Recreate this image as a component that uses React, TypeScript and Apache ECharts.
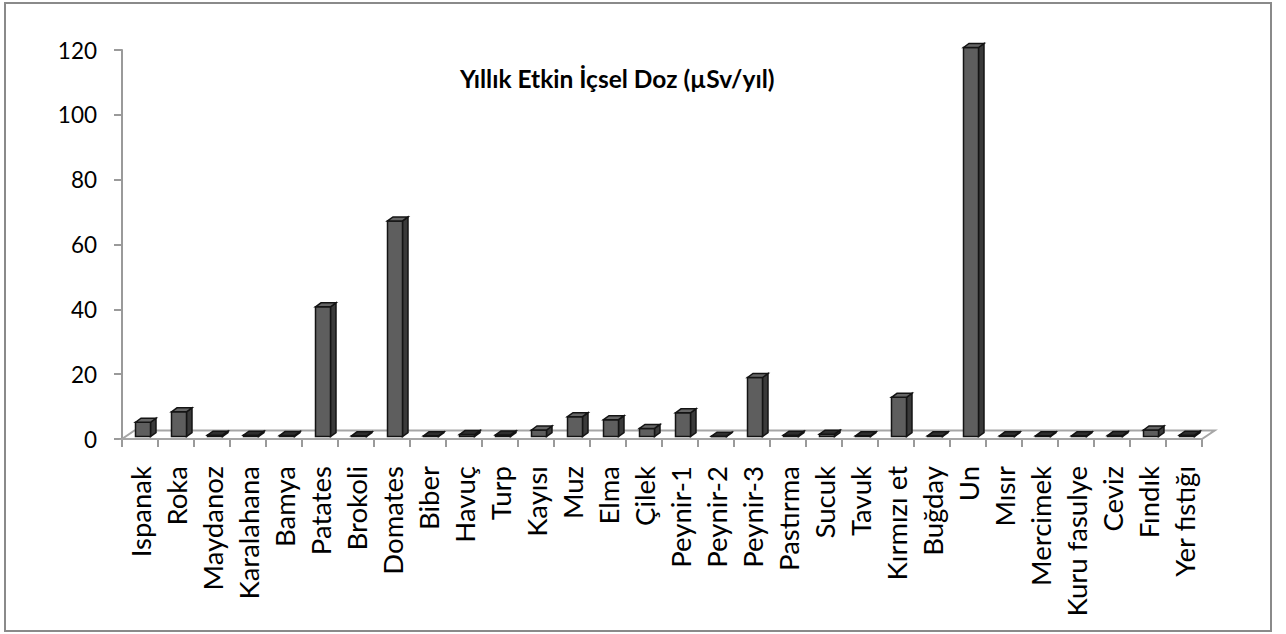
import React, { useEffect, useRef } from "react";
import * as echarts from "echarts";

const categories = [
  "Ispanak", "Roka", "Maydanoz", "Karalahana", "Bamya", "Patates", "Brokoli", "Domates",
  "Biber", "Havuç", "Turp", "Kayısı", "Muz", "Elma", "Çilek", "Peynir-1", "Peynir-2",
  "Peynir-3", "Pastırma", "Sucuk", "Tavuk", "Kırmızı et", "Buğday", "Un", "Mısır",
  "Mercimek", "Kuru fasulye", "Ceviz", "Fındık", "Yer fıstığı",
];
const doseValues = [
  4.4, 7.6, 0.4, 0.4, 0.3, 40, 0.2, 66.5,
  0.2, 0.6, 0.5, 2.0, 6.1, 5.2, 2.5, 7.3, 0.1,
  18.2, 0.4, 0.7, 0.2, 12.1, 0.2, 120, 0.2,
  0.2, 0.2, 0.3, 2.0, 0.4,
];
const titleText = "Yıllık Etkin İçsel Doz (µSv/yıl)";
const yMin = 0;
const yMax = 120;
const yInterval = 20;

const FONT = "Lato";

export default function App() {
  const ref = useRef<HTMLDivElement>(null);
  useEffect(() => {
    document.body.style.margin = "0";
    const chart = echarts.init(ref.current!, null, { renderer: "svg" });
    const barData = doseValues.map((v, i) => [i, v]);
    const option: any = {
      animation: false,
      backgroundColor: "#ffffff",
      title: {
        text: titleText,
        left: 455,
        top: 61,
        textStyle: { fontFamily: FONT, fontSize: 24.5, fontWeight: "bold", color: "#000" },
      },
      graphic: [
        {
          type: "rect",
          shape: { x: 5, y: 3, width: 1266, height: 628 },
          style: { fill: "none", stroke: "#8a8a8a", lineWidth: 2 },
          z: -10,
        },
      ],
      grid: { left: 122, right: 84, top: 50, bottom: 195, containLabel: false },
      xAxis: {
        type: "category",
        data: categories,
        boundaryGap: true,
        axisLine: { show: true, lineStyle: { color: "#9a9a9a", width: 2 } },
        axisTick: { show: true, length: 8, interval: 0, lineStyle: { color: "#9a9a9a", width: 2 } },
        axisLabel: {
          interval: 0,
          rotate: 90,
          margin: 27,
          fontFamily: FONT,
          fontSize: 27.5,
          color: "#000",
        },
        splitLine: { show: false },
      },
      yAxis: {
        type: "value",
        min: yMin,
        max: yMax,
        interval: yInterval,
        axisLine: { show: true, lineStyle: { color: "#9a9a9a", width: 2 } },
        axisTick: { show: true, length: 8, lineStyle: { color: "#9a9a9a", width: 2 } },
        axisLabel: { margin: 25, fontFamily: FONT, fontSize: 22.5, color: "#000" },
        splitLine: { show: false },
      },
      series: [
        {
          type: "custom",
          z: 1,
          data: [[0, 0]],
          renderItem: (params: any, api: any) => {
            const cs = params.coordSys;
            const yb = cs.y + cs.height;
            const xl = cs.x;
            const xr = cs.x + cs.width;
            return {
              type: "polygon",
              shape: {
                points: [
                  [xl, yb],
                  [xr, yb],
                  [xr + 12.7, yb - 8.5],
                  [xl + 12.5, yb - 8.5],
                ],
              },
              style: { fill: "none", stroke: "#a6a6a6", lineWidth: 2 },
            };
          },
        },
        {
          type: "custom",
          z: 5,
          data: barData,
          renderItem: (params: any, api: any) => {
            const idx = api.value(0);
            const v = api.value(1);
            const base = api.coord([idx, 0]);
            const top = api.coord([idx, v]);
            const w = 15;
            const dx = 5.5;
            const dy = 4;
            const lift = 2.5;
            const x0 = base[0] + 3 - w / 2;
            const yb = base[1] - lift;
            const yt = top[1] - lift;
            const stroke = "#141414";
            const capFill = v < 1 ? "#2e2e2e" : "#666666";
            return {
              type: "group",
              children: [
                {
                  type: "polygon",
                  shape: {
                    points: [
                      [x0 + w, yt],
                      [x0 + w + dx, yt - dy],
                      [x0 + w + dx, yb - dy],
                      [x0 + w, yb],
                    ],
                  },
                  style: { fill: "#3a3a3a", stroke, lineWidth: 1.5 },
                },
                {
                  type: "rect",
                  shape: { x: x0, y: yt, width: w, height: Math.max(yb - yt, 0.5) },
                  style: { fill: "#5e5e5e", stroke, lineWidth: 1.5 },
                },
                {
                  type: "polygon",
                  shape: {
                    points: [
                      [x0, yt],
                      [x0 + dx, yt - dy],
                      [x0 + w + dx, yt - dy],
                      [x0 + w, yt],
                    ],
                  },
                  style: { fill: capFill, stroke, lineWidth: 1.5 },
                },
              ],
            };
          },
        },
      ],
    };
    chart.setOption(option);
    return () => chart.dispose();
  }, []);
  return <div ref={ref} style={{ width: 1286, height: 634 }} />;
}
